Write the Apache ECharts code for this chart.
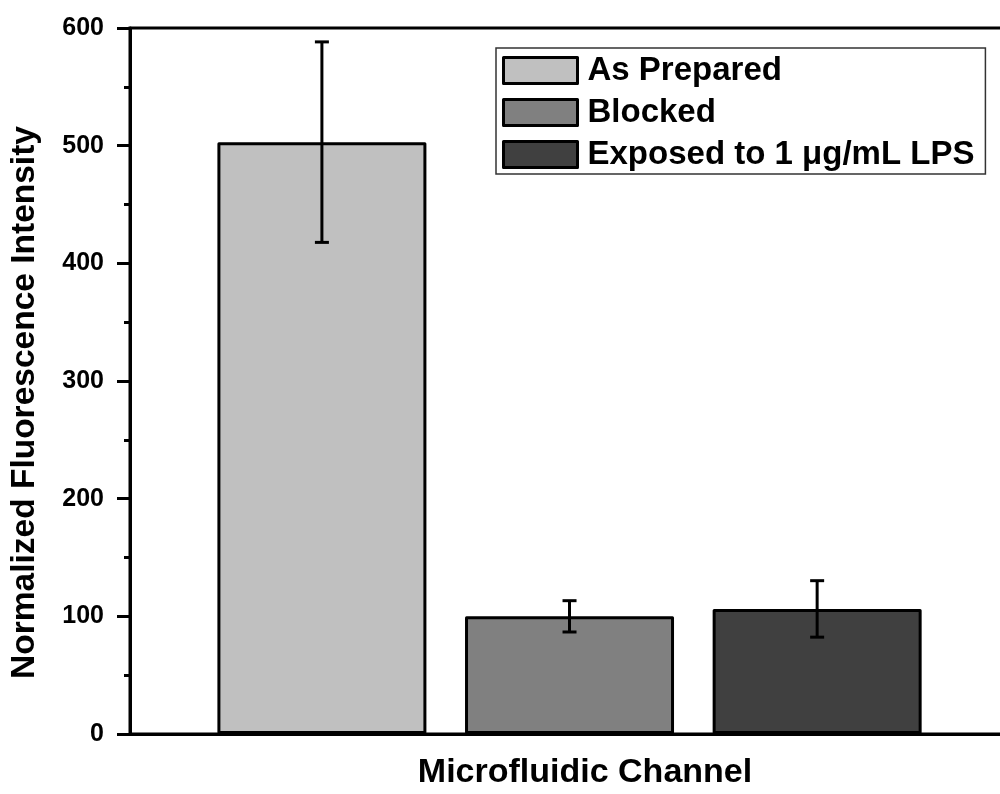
<!DOCTYPE html>
<html>
<head>
<meta charset="utf-8">
<style>
  html, body { margin: 0; padding: 0; background: #fff; overflow: hidden; }
  #chart { width: 1000px; height: 794px; }
</style>
<script src="https://cdn.jsdelivr.net/npm/echarts@6/dist/echarts.min.js"></script>
</head>
<body>
<div id="chart"></div>
<script>
// Normalized fluorescence intensity per channel treatment (mean ± error)
const categories = ['As Prepared', 'Blocked', 'Exposed to 1 \u03bcg/mL LPS'];
const positions = [1, 2, 3];
const means = [503, 100, 106.3];
const errors = [85.2, 13.3, 24];
const barColors = ['#c0c0c0', '#808080', '#404040'];
const yTicks = [0, 100, 200, 300, 400, 500, 600];

const FONT = 'Liberation Sans, Arial, Helvetica, sans-serif';

const chart = echarts.init(document.getElementById('chart'), null, { renderer: 'canvas' });

// one bar series per treatment, sharing a stack so the bars sit on their own x position
const barSeries = categories.map((name, i) => ({
  name: name,
  type: 'bar',
  stack: 'channel',
  barWidth: 209,
  data: [[positions[i], means[i]]],
  itemStyle: {
    color: barColors[i],
    borderColor: '#000',
    borderWidth: 3,
    borderJoin: 'round'
  },
  emphasis: { disabled: true }
}));

// I-shaped error bars
const errorSeries = {
  type: 'custom',
  name: 'error',
  data: positions.map((p, i) => [p, means[i], errors[i]]),
  z: 10,
  renderItem: function (params, api) {
    const x = api.value(0);
    const m = api.value(1);
    const e = api.value(2);
    const hi = api.coord([x, m + e]);
    const lo = api.coord([x, m - e]);
    const cap = 7;
    const style = { stroke: '#000', lineWidth: 3 };
    return {
      type: 'group',
      children: [
        { type: 'line', shape: { x1: hi[0], y1: hi[1], x2: lo[0], y2: lo[1] }, style: style },
        { type: 'line', shape: { x1: hi[0] - cap, y1: hi[1], x2: hi[0] + cap, y2: hi[1] }, style: style },
        { type: 'line', shape: { x1: lo[0] - cap, y1: lo[1], x2: lo[0] + cap, y2: lo[1] }, style: style }
      ]
    };
  }
};

chart.setOption({
  animation: false,
  backgroundColor: '#fff',
  // the plot frame runs past the right edge of the canvas
  grid: {
    left: 130,
    width: 910,
    top: 28,
    height: 706,
    outerBoundsMode: 'none',
    containLabel: false,
    show: true,
    borderColor: '#000',
    borderWidth: 3,
    backgroundColor: 'transparent'
  },
  legend: {
    orient: 'vertical',
    left: 496,
    top: 48,
    padding: [6, 11, 3, 6],
    itemWidth: 74,
    itemHeight: 26,
    itemGap: 9,
    icon: 'rect',
    borderColor: '#333',
    borderWidth: 1.5,
    backgroundColor: '#fff',
    data: categories,
    selectedMode: false,
    itemStyle: { borderColor: '#000', borderWidth: 3 },
    textStyle: {
      fontFamily: FONT,
      fontWeight: 'bold',
      fontSize: 33,
      color: '#000',
      padding: [0, 0, 0, 5]
    }
  },
  xAxis: {
    type: 'value',
    min: 0.225,
    max: 3.9,
    name: 'Microfluidic Channel',
    nameLocation: 'middle',
    nameGap: 22,
    nameTextStyle: { fontFamily: FONT, fontWeight: 'bold', fontSize: 34, color: '#000' },
    axisLine: { show: true, onZero: false, lineStyle: { color: '#000', width: 3 } },
    axisTick: { show: false },
    axisLabel: { show: false },
    splitLine: { show: false }
  },
  yAxis: {
    type: 'value',
    min: yTicks[0],
    max: yTicks[yTicks.length - 1],
    interval: 100,
    name: 'Normalized Fluorescence Intensity',
    nameLocation: 'middle',
    nameGap: 88,
    nameTextStyle: {
      fontFamily: FONT,
      fontWeight: 'bold',
      fontSize: 33.5,
      color: '#000',
      padding: [0, 43, 0, 0]
    },
    axisLine: { show: true, lineStyle: { color: '#000', width: 3 } },
    axisTick: { show: true, length: 13, lineStyle: { color: '#000', width: 3 } },
    minorTick: { show: true, splitNumber: 2, length: 6, lineStyle: { color: '#000', width: 3 } },
    axisLabel: {
      margin: 26,
      fontFamily: FONT,
      fontWeight: 'bold',
      fontSize: 25,
      color: '#000',
      formatter: function (v) { return yTicks.indexOf(v) >= 0 ? String(v) : ''; }
    },
    splitLine: { show: false },
    minorSplitLine: { show: false }
  },
  series: barSeries.concat([errorSeries])
});
</script>
</body>
</html>
